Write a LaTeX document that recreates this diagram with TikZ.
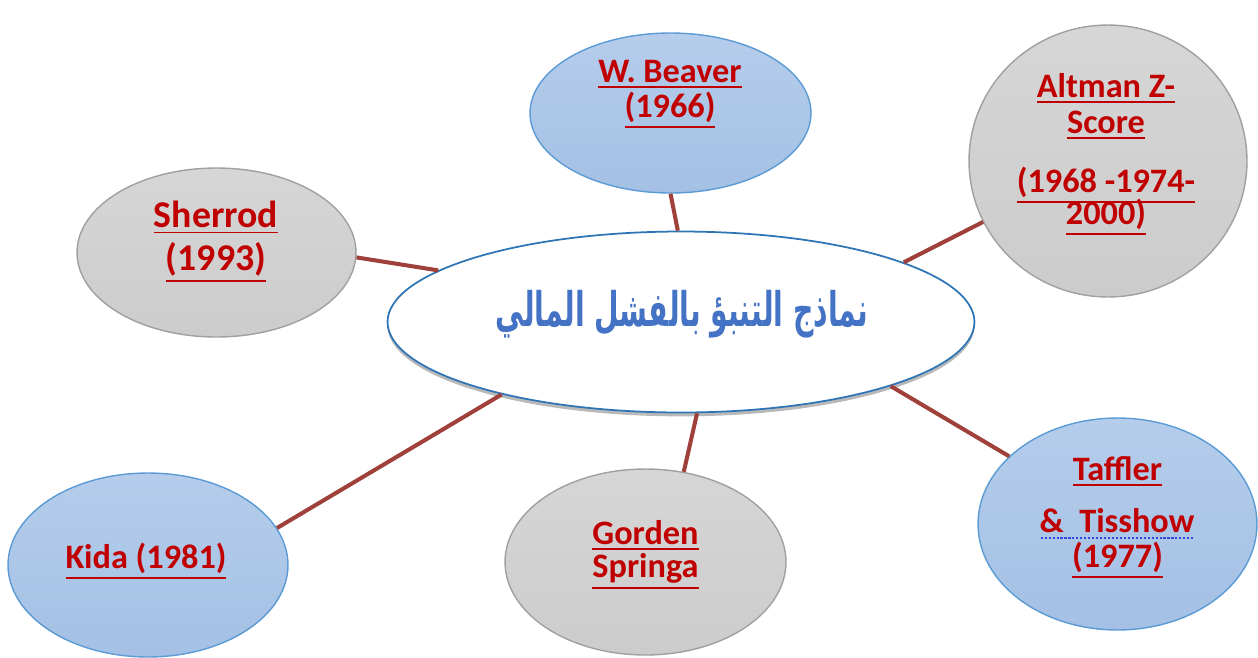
\documentclass[tikz,border=0pt]{standalone}
\usepackage{graphicx}
\usepackage{fontspec}
\setmainfont{Carlito}
\newfontfamily\arabicfont[Script=Arabic]{DejaVu Sans}
\TeXXeTstate=1
\usetikzlibrary{shapes.geometric,shadows}
\definecolor{txtred}{RGB}{192,0,0}
\definecolor{titleblue}{RGB}{68,114,196}
\definecolor{bluetop}{RGB}{181,205,235}
\definecolor{bluebot}{RGB}{164,192,228}
\definecolor{blueedge}{RGB}{91,155,213}
\definecolor{graytop}{RGB}{214,214,214}
\definecolor{graybot}{RGB}{204,204,204}
\definecolor{grayedge}{RGB}{160,160,160}
\definecolor{mainedge}{RGB}{46,117,182}
\definecolor{connred}{RGB}{160,64,58}
\definecolor{spellblue}{RGB}{50,70,230}
\newcommand{\myul}[1]{\vtop{\hbox{#1}\kern2.4pt\hrule height 1.1pt}}
\newsavebox\ulbox
\newcommand{\mydotul}[1]{\sbox\ulbox{#1}\vtop{\copy\ulbox\nointerlineskip\kern2.6pt\hbox to \wd\ulbox{\color{spellblue}\xleaders\hbox to 2.2pt{\hss\vrule width 1.2pt height 1.2pt\hss}\hfill}}}
\tikzset{
  bluebox/.style={ellipse, draw=blueedge, line width=0.8pt, top color=bluetop, bottom color=bluebot, inner sep=0pt},
  graybox/.style={ellipse, draw=grayedge, line width=0.8pt, top color=graytop, bottom color=graybot, inner sep=0pt},
  mainbox/.style={ellipse, draw=mainedge, line width=1pt, fill=white, inner sep=0pt,
     drop shadow={shadow xshift=0pt, shadow yshift=-2.2pt, opacity=0.5, fill=black!55}},
  conn/.style={draw=connred, line width=2.3pt},
  lbl/.style={text=txtred, font=\bfseries\fontsize{19.5}{20}\selectfont, anchor=base, inner sep=0pt},
  biglbl/.style={lbl, font=\bfseries\fontsize{21.5}{22}\selectfont},
  arab/.style={text=titleblue, font=\arabicfont\bfseries\fontsize{23}{26}\selectfont, inner sep=0pt}
}
\begin{document}
\begin{tikzpicture}[x=0.02cm, y=-0.02cm]
\useasboundingbox (0,0) rectangle (1258,657);
% central ellipse
\node[mainbox, minimum width=11.74cm, minimum height=3.62cm] (main) at (681,322) {};
% outer shapes
\node[bluebox, minimum width=5.62cm, minimum height=3.2cm] (beaver) at (670.5,113) {};
\node[graybox, minimum width=5.56cm, minimum height=5.44cm] (altman) at (1108,161) {};
\node[graybox, minimum width=5.58cm, minimum height=3.38cm] (sherrod) at (216.5,252.5) {};
\node[bluebox, minimum width=5.6cm, minimum height=3.68cm] (kida) at (148,565) {};
\node[graybox, minimum width=5.62cm, minimum height=3.72cm] (gorden) at (645.5,562) {};
\node[bluebox, minimum width=5.58cm, minimum height=4.24cm] (taffler) at (1117.5,524) {};
% connectors
\draw[conn] (beaver.270) -- (main.92);
\draw[conn] (sherrod.358) -- (main.168);
\draw[conn] (altman.206) -- (main.15);
\draw[conn] (kida.16) -- (main.202);
\draw[conn] (gorden.67) -- (main.280);
\draw[conn] (taffler.148) -- (main.343);
% title
\node[arab] (title) at (682,314) {\scalebox{0.7}[1.18]{\beginR نماذج التنبؤ بالفشل المالي\endR}};
% labels
\node[lbl] (beaverA) at (670,82) {\myul{W. Beaver}};
\node[lbl] (beaverB) at (670,117) {\myul{(1966)}};
\node[lbl] (altmanA) at (1106,97) {\myul{Altman Z-}};
\node[lbl] (altmanB) at (1106,133) {\myul{Score}};
\node[lbl] (altmanC) at (1106,192) {\myul{(1968 -1974-}};
\node[lbl] (altmanD) at (1106,224) {\myul{2000)}};
\node[biglbl] (sherrodA) at (216,227) {\myul{Sherrod}};
\node[biglbl] (sherrodB) at (216,270) {\myul{(1993)}};
\node[lbl] (kidaA) at (146,568) {\myul{Kida (1981)}};
\node[lbl] (gordenA) at (645.5,544) {\myul{Gorden}};
\node[lbl] (gordenB) at (645.5,577) {\myul{Springa}};
\node[lbl] (tafflerA) at (1117.5,480) {\myul{Taffler}};
\node[lbl] (tafflerB) at (1117,532) {\mydotul{\&\ \ Tisshow}};
\node[lbl] (tafflerC) at (1117.5,567) {\myul{(1977)}};
\end{tikzpicture}
\end{document}
